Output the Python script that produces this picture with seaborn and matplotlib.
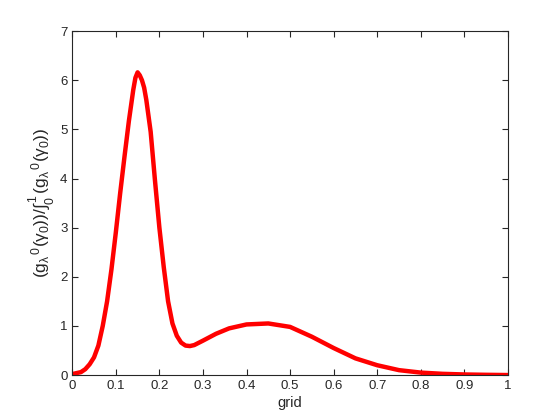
import matplotlib
matplotlib.use("Agg")
import matplotlib.pyplot as plt
import seaborn as sns
import pandas as pd

# valores
grid = [0, 0.02, 0.03, 0.04, 0.05, 0.06, 0.07, 0.08, 0.09, 0.10, 0.11, 0.12,
        0.13, 0.14, 0.145, 0.15, 0.155, 0.16, 0.165, 0.17, 0.18, 0.19, 0.20, 0.21,
        0.22, 0.23, 0.24, 0.25, 0.26, 0.27, 0.28, 0.30, 0.33, 0.36, 0.40,
        0.45, 0.50, 0.55, 0.60, 0.65, 0.70, 0.75, 0.80, 0.85, 0.90, 0.95, 1.0]
densidad = [0.02, 0.06, 0.12, 0.22, 0.36, 0.60, 1.0, 1.5, 2.15, 2.9, 3.7, 4.45,
            5.17, 5.8, 6.05, 6.16, 6.1, 6.0, 5.85, 5.6, 4.95, 3.95, 3.0, 2.2,
            1.5, 1.05, 0.8, 0.66, 0.6, 0.59, 0.61, 0.7, 0.84, 0.95, 1.03,
            1.05, 0.98, 0.78, 0.55, 0.34, 0.2, 0.1, 0.05, 0.025, 0.012, 0.005, 0.0]
xticks = [0, 0.1, 0.2, 0.3, 0.4, 0.5, 0.6, 0.7, 0.8, 0.9, 1]
xticklabels = ["0", "0.1", "0.2", "0.3", "0.4", "0.5", "0.6", "0.7", "0.8", "0.9", "1"]
yticks = [0, 1, 2, 3, 4, 5, 6, 7]

sns.set_theme(style="ticks")
plt.rcParams["font.family"] = ["Liberation Sans", "DejaVu Sans"]
plt.rcParams["mathtext.fontset"] = "custom"
plt.rcParams["mathtext.rm"] = "Liberation Sans"
plt.rcParams["mathtext.it"] = "Liberation Sans"
plt.rcParams["mathtext.bf"] = "Liberation Sans"

df = pd.DataFrame({"grid": grid, "valor": densidad})

fig = plt.figure(figsize=(5.6, 4.2), dpi=100)
ax = fig.add_axes([0.129, 0.107, 0.778, 0.819])
sns.lineplot(data=df, x="grid", y="valor", color="#ff0000", linewidth=3.2,
             sort=False, ax=ax)

ax.set_xlim(0, 1)
ax.set_ylim(0, 7)
ax.set_xticks(xticks)
ax.set_xticklabels(xticklabels)
ax.set_yticks(yticks)

gris = "#262626"
for s in ax.spines.values():
    s.set_visible(True)
    s.set_color(gris)
    s.set_linewidth(0.8)
ax.tick_params(direction="in", top=True, right=True, length=4, width=0.8,
               colors=gris, labelcolor=gris, labelsize=9.5)

ax.set_xlabel("grid", fontsize=10.5, color=gris, labelpad=3)
ax.set_ylabel(r"$(\mathrm{g}_\lambda{}^{\,0}(\gamma_0))/\int_0^1\,(\mathrm{g}_\lambda{}^{\,0}(\gamma_0))$",
              fontsize=12.5, color=gris, labelpad=2)

fig.savefig("out.png", dpi=100, facecolor="white")
